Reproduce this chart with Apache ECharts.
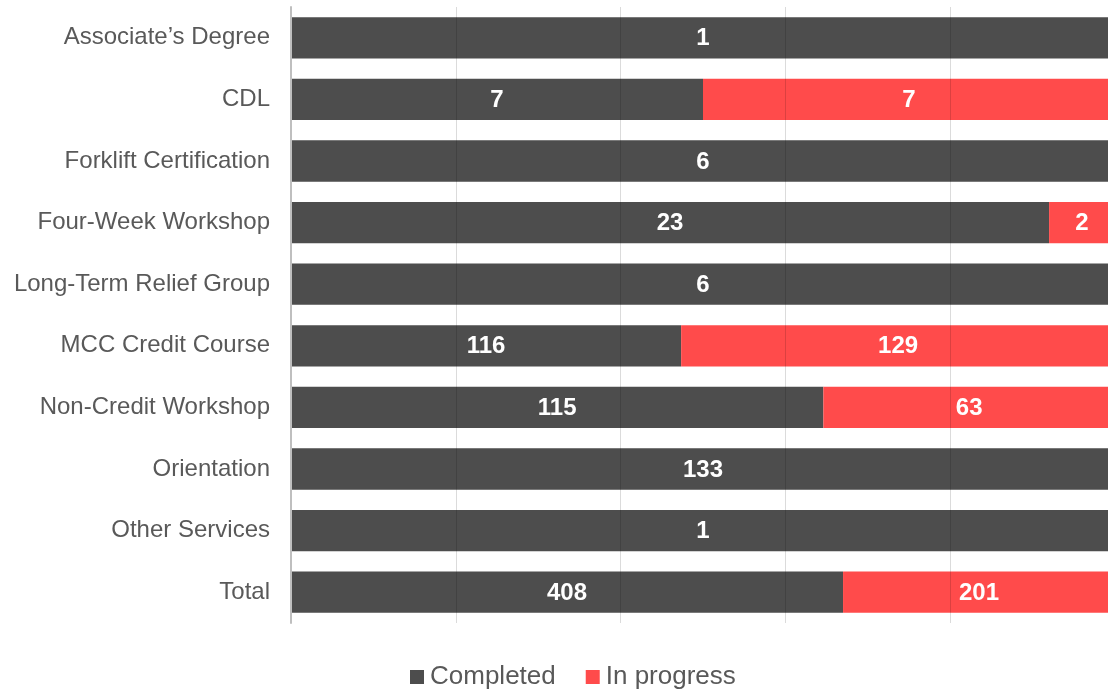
<!DOCTYPE html>
<html><head><meta charset="utf-8">
<script src="https://cdn.jsdelivr.net/npm/echarts@6/dist/echarts.min.js"></script>
<style>html,body{margin:0;padding:0;background:#fff}#c{width:1108px;height:690px}</style>
</head><body><div id="c"></div>
<script>
const categories = ["Associate\u2019s Degree","CDL","Forklift Certification","Four-Week Workshop","Long-Term Relief Group","MCC Credit Course","Non-Credit Workshop","Orientation","Other Services","Total"];
const completed = [1,7,6,23,6,116,115,133,1,408];
const inProgress = [0,7,0,2,0,129,63,0,0,201];

const pct = (arr, i) => { const t = completed[i] + inProgress[i]; return t ? arr[i] / t * 100 : 0; };
const mk = (arr) => arr.map((v, i) => ({ value: pct(arr, i), raw: v }));
const lbl = {
  show: true, position: 'inside', color: '#fff', fontWeight: 'bold', fontSize: 24,
  fontFamily: 'Liberation Sans, Arial, sans-serif', offset: [0, 1],
  formatter: p => p.data.raw > 0 ? String(p.data.raw) : ''
};
// The reference plot runs slightly past the right edge of the picture (100% lies at ~x=1115).
const visibleMax = 100 * 817 / 824;
const chart = echarts.init(document.getElementById('c'));
chart.setOption({
  animation: false,
  grid: { left: 291, right: 0, top: 7, bottom: 67 },
  legend: {
    top: 659, left: 405, itemWidth: 14, itemHeight: 14, itemGap: 30,
    icon: 'rect',
    textStyle: { fontSize: 26, color: '#595959', fontFamily: 'Liberation Sans, Arial, sans-serif', padding: [0,0,0,1] },
    data: ['Completed', 'In progress']
  },
  xAxis: {
    type: 'value', min: 0, max: visibleMax, interval: 20, z: 5,
    axisLabel: { show: false }, axisTick: { show: false }, axisLine: { show: false },
    splitLine: { show: true, lineStyle: { color: 'rgba(0,0,0,0.14)', width: 1 } }
  },
  yAxis: {
    type: 'category', inverse: true, data: categories, z: 5,
    axisTick: { show: false },
    axisLine: { show: true, lineStyle: { color: '#bfbfbf', width: 2 } },
    axisLabel: { fontSize: 24, color: '#595959', margin: 21, lineHeight: 28, padding: [5,0,0,0], fontFamily: 'Liberation Sans, Arial, sans-serif' }
  },
  series: [
    { name: 'Completed', type: 'bar', stack: 's', barCategoryGap: '33%', clip: false, data: mk(completed),
      itemStyle: { color: '#4d4d4d' }, label: lbl },
    { name: 'In progress', type: 'bar', stack: 's', barCategoryGap: '33%', clip: false, data: mk(inProgress),
      itemStyle: { color: '#ff4b4b' }, label: lbl }
  ]
});
</script></body></html>
